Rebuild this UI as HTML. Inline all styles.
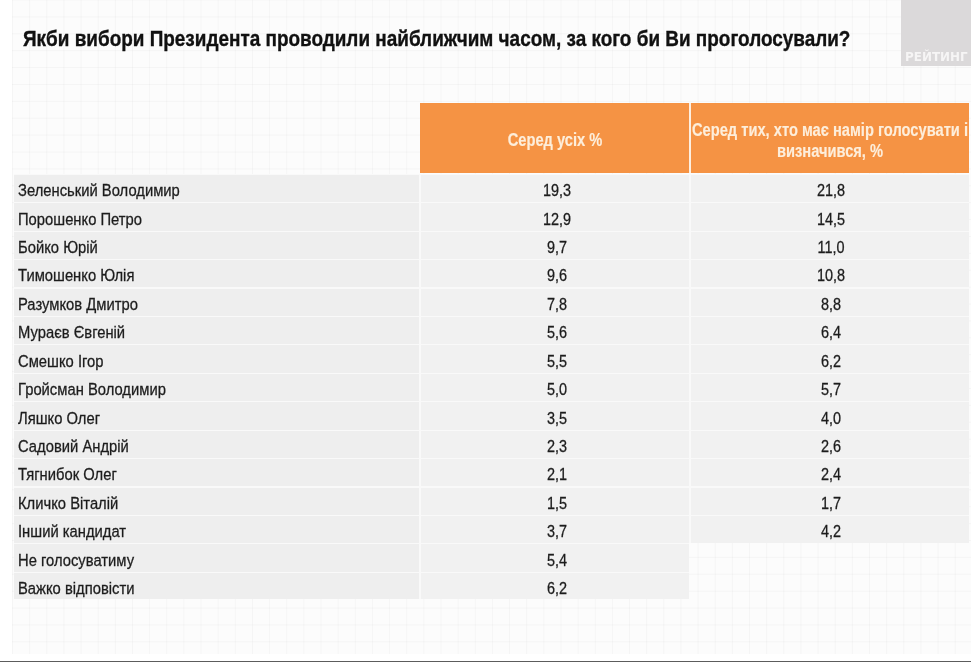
<!DOCTYPE html>
<html lang="uk"><head><meta charset="utf-8"><title>Рейтинг</title>
<style>
html,body{margin:0;padding:0}
body{width:971px;height:662px;position:relative;overflow:hidden;background:#fff;font-family:"Liberation Sans",sans-serif;color:#1a1a1a}
.grid{position:absolute;left:12px;top:0;width:959px;height:654px;background-color:#fcfcfc;
background-image:linear-gradient(to right,rgba(0,0,0,.028) 1px,transparent 1px),linear-gradient(to bottom,rgba(0,0,0,.028) 1px,transparent 1px);
background-size:17.15px 16.9px;background-position:0 16.4px;}
.logo{position:absolute;left:901px;top:0;width:70px;height:66px;background:#dbd9da}
.logo span{position:absolute;left:4.3px;top:50.2px;font-family:"DejaVu Sans","Liberation Sans",sans-serif;font-weight:bold;font-size:11.8px;line-height:14px;color:#f6f5f5;white-space:nowrap;transform-origin:0 50%;transform:scaleX(1.013)}
h1{-webkit-text-stroke:.35px #111;position:absolute;left:23.2px;top:25.6px;margin:0;font-size:21.5px;line-height:26px;font-weight:bold;color:#111;white-space:nowrap;transform-origin:0 50%;transform:scaleX(.8805)}
.hd{position:absolute;top:103.3px;height:70.1px;background:#f59344}
.hd1{left:419.9px;width:269.6px}
.hd2{left:690.9px;width:277.7px}
.ht{-webkit-text-stroke:.15px #fdeedb;position:absolute;font-weight:bold;font-size:17.5px;line-height:21.5px;color:#fdeedb;white-space:nowrap;text-align:center;width:400px;margin-left:-200px;transform:scaleX(.8386)}
.c{position:absolute;height:27.28px}
.c0{left:14px;width:404.6px;background:#eeeeee}
.c1{left:420.6px;width:268.4px;background:#f1f1f1}
.c2{left:691.2px;width:277.4px;background:#f1f1f1}
.n,.v{-webkit-text-stroke:.3px #1c1c1c;color:#1c1c1c}
.n{position:absolute;left:18.2px;font-size:17.4px;line-height:20px;white-space:nowrap;transform-origin:0 50%;transform:scaleX(.85)}
.v{position:absolute;width:80px;margin-left:-40px;text-align:center;font-size:17.4px;line-height:20px;white-space:nowrap;transform:scaleX(.83)}
.tb{position:absolute;background:#f9f9f9}
.foot{position:absolute;left:0;top:660.5px;width:971px;height:1.5px;background:#5c5c5c}
</style></head><body>
<div class="grid"></div>
<div class="logo"><span>РЕЙТИНГ</span></div>
<h1>Якби вибори Президента проводили найближчим часом, за кого би Ви проголосували?</h1>
<div class="tb" style="left:14px;top:174.3px;width:675px;height:424.7px"></div><div class="tb" style="left:689px;top:174.3px;width:279.6px;height:369.04px"></div>
<div class="hd" style="left:689px;width:2.2px;background:#fdeee0"></div><div class="hd hd1"></div><div class="hd hd2"></div>
<div class="ht" style="left:554.6px;top:129.6px">Серед усіх %</div>
<div class="ht" style="left:830.05px;top:119.9px">Серед тих, хто має намір голосувати і<br>визначився, %</div>
<div class="c c0" style="top:174.90px"></div><div class="c c1" style="top:174.90px"></div><div class="c c2" style="top:174.90px"></div><div class="n" style="top:180.10px">Зеленський Володимир</div><div class="v" style="left:556.6px;top:180.10px">19,3</div><div class="v" style="left:831.3px;top:180.10px">21,8</div>
<div class="c c0" style="top:203.33px"></div><div class="c c1" style="top:203.33px"></div><div class="c c2" style="top:203.33px"></div><div class="n" style="top:208.53px">Порошенко Петро</div><div class="v" style="left:556.6px;top:208.53px">12,9</div><div class="v" style="left:831.3px;top:208.53px">14,5</div>
<div class="c c0" style="top:231.76px"></div><div class="c c1" style="top:231.76px"></div><div class="c c2" style="top:231.76px"></div><div class="n" style="top:236.96px">Бойко Юрій</div><div class="v" style="left:556.6px;top:236.96px">9,7</div><div class="v" style="left:831.3px;top:236.96px">11,0</div>
<div class="c c0" style="top:260.19px"></div><div class="c c1" style="top:260.19px"></div><div class="c c2" style="top:260.19px"></div><div class="n" style="top:265.39px">Тимошенко Юлія</div><div class="v" style="left:556.6px;top:265.39px">9,6</div><div class="v" style="left:831.3px;top:265.39px">10,8</div>
<div class="c c0" style="top:288.62px"></div><div class="c c1" style="top:288.62px"></div><div class="c c2" style="top:288.62px"></div><div class="n" style="top:293.82px">Разумков Дмитро</div><div class="v" style="left:556.6px;top:293.82px">7,8</div><div class="v" style="left:831.3px;top:293.82px">8,8</div>
<div class="c c0" style="top:317.05px"></div><div class="c c1" style="top:317.05px"></div><div class="c c2" style="top:317.05px"></div><div class="n" style="top:322.25px">Мураєв Євгеній</div><div class="v" style="left:556.6px;top:322.25px">5,6</div><div class="v" style="left:831.3px;top:322.25px">6,4</div>
<div class="c c0" style="top:345.48px"></div><div class="c c1" style="top:345.48px"></div><div class="c c2" style="top:345.48px"></div><div class="n" style="top:350.68px">Смешко Ігор</div><div class="v" style="left:556.6px;top:350.68px">5,5</div><div class="v" style="left:831.3px;top:350.68px">6,2</div>
<div class="c c0" style="top:373.91px"></div><div class="c c1" style="top:373.91px"></div><div class="c c2" style="top:373.91px"></div><div class="n" style="top:379.11px">Гройсман Володимир</div><div class="v" style="left:556.6px;top:379.11px">5,0</div><div class="v" style="left:831.3px;top:379.11px">5,7</div>
<div class="c c0" style="top:402.34px"></div><div class="c c1" style="top:402.34px"></div><div class="c c2" style="top:402.34px"></div><div class="n" style="top:407.54px">Ляшко Олег</div><div class="v" style="left:556.6px;top:407.54px">3,5</div><div class="v" style="left:831.3px;top:407.54px">4,0</div>
<div class="c c0" style="top:430.77px"></div><div class="c c1" style="top:430.77px"></div><div class="c c2" style="top:430.77px"></div><div class="n" style="top:435.97px">Садовий Андрій</div><div class="v" style="left:556.6px;top:435.97px">2,3</div><div class="v" style="left:831.3px;top:435.97px">2,6</div>
<div class="c c0" style="top:459.20px"></div><div class="c c1" style="top:459.20px"></div><div class="c c2" style="top:459.20px"></div><div class="n" style="top:464.40px">Тягнибок Олег</div><div class="v" style="left:556.6px;top:464.40px">2,1</div><div class="v" style="left:831.3px;top:464.40px">2,4</div>
<div class="c c0" style="top:487.63px"></div><div class="c c1" style="top:487.63px"></div><div class="c c2" style="top:487.63px"></div><div class="n" style="top:492.83px">Кличко Віталій</div><div class="v" style="left:556.6px;top:492.83px">1,5</div><div class="v" style="left:831.3px;top:492.83px">1,7</div>
<div class="c c0" style="top:516.06px"></div><div class="c c1" style="top:516.06px"></div><div class="c c2" style="top:516.06px"></div><div class="n" style="top:521.26px">Інший кандидат</div><div class="v" style="left:556.6px;top:521.26px">3,7</div><div class="v" style="left:831.3px;top:521.26px">4,2</div>
<div class="c c0" style="top:544.49px"></div><div class="c c1" style="top:544.49px"></div><div class="n" style="top:549.69px">Не голосуватиму</div><div class="v" style="left:556.6px;top:549.69px">5,4</div>
<div class="c c0" style="top:572.92px;height:26.08px"></div><div class="c c1" style="top:572.92px;height:26.08px"></div><div class="n" style="top:578.12px">Важко відповісти</div><div class="v" style="left:556.6px;top:578.12px">6,2</div>
<div class="foot"></div>
</body></html>
